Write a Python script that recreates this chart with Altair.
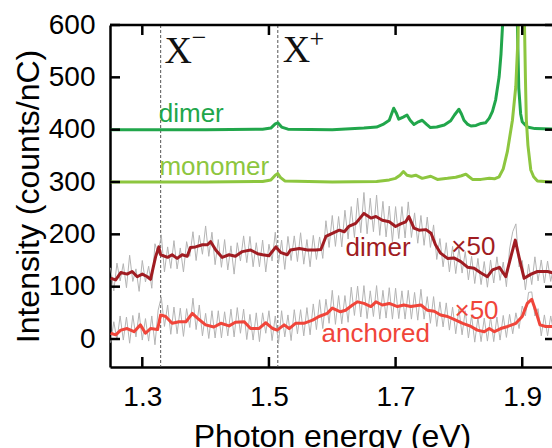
import altair as alt
import pandas as pd

# Plot-area size (px) and data ranges
W, H = 442, 342
E_DOMAIN = [1.249, 1.947]
I_DOMAIN = [-53.5, 600]

x_tick_values = [1.3, 1.5, 1.7, 1.9]
y_tick_values = [0, 100, 200, 300, 400, 500, 600]

# Trion energies (dashed markers)
trion_energy = [1.329, 1.514]

# Dimer spectrum (offset +400)
dimer_e = [1.25, 1.30, 1.40, 1.49, 1.503, 1.510, 1.514, 1.520, 1.53, 1.60,
           1.65, 1.67, 1.68, 1.69, 1.697, 1.701, 1.705, 1.712, 1.718, 1.723,
           1.729, 1.736, 1.742, 1.749, 1.755, 1.765, 1.777, 1.787, 1.793, 1.800,
           1.804, 1.808, 1.814, 1.819, 1.827, 1.835, 1.842, 1.848, 1.853, 1.858,
           1.8635, 1.8665, 1.8688, 1.872, 1.876, 1.880, 1.884, 1.886, 1.889, 1.892,
           1.8945, 1.8975, 1.900, 1.904, 1.908, 1.92, 1.95]
dimer_v = [400, 400, 400, 401, 403, 411, 413, 405, 401, 400,
           403, 405, 410, 418, 441, 432, 420, 424, 428, 418,
           410, 415, 418, 410, 404, 405, 409, 417, 428, 439,
           430, 418, 410, 407, 408, 412, 413, 422, 435, 457,
           501, 545, 597, 680, 800, 1000, 1200, 1200, 1000, 620,
           480, 430, 415, 410, 405, 402, 401]

# Monomer spectrum (offset +300)
mono_e = [1.25, 1.40, 1.49, 1.503, 1.510, 1.514, 1.518, 1.525, 1.60, 1.67,
          1.69, 1.700, 1.707, 1.7124, 1.718, 1.725, 1.7318, 1.742, 1.7555, 1.766,
          1.782, 1.795, 1.804, 1.811, 1.816, 1.8214, 1.835, 1.848, 1.856, 1.8635,
          1.870, 1.8765, 1.8845, 1.8898, 1.8934, 1.8955, 1.898, 1.900, 1.9015, 1.903,
          1.905, 1.9065, 1.909, 1.9135, 1.918, 1.924, 1.95]
mono_v = [300, 300, 301, 304, 313, 316, 309, 302, 300, 301,
          304, 307, 313, 320, 313, 311, 313, 307, 311, 305,
          307, 309, 312, 315, 310, 305, 305, 307, 306, 310,
          325, 358, 418, 482, 578, 720, 1000, 1100, 900, 640,
          500, 418, 370, 323, 310, 302, 300]

# Dimer x50, smoothed (offset +100)
dimer50_e = [1.250, 1.258, 1.266, 1.276, 1.284, 1.292, 1.300, 1.308, 1.313, 1.321,
             1.326, 1.329, 1.340, 1.347, 1.355, 1.363, 1.371, 1.376, 1.384, 1.395,
             1.403, 1.408, 1.416, 1.426, 1.437, 1.447, 1.458, 1.471, 1.482, 1.490,
             1.500, 1.511, 1.519, 1.529, 1.534, 1.548, 1.561, 1.574, 1.582, 1.590,
             1.600, 1.611, 1.619, 1.626, 1.637, 1.650, 1.661, 1.669, 1.679, 1.690,
             1.700, 1.708, 1.716, 1.721, 1.729, 1.737, 1.748, 1.756, 1.763, 1.771,
             1.782, 1.792, 1.803, 1.814, 1.824, 1.835, 1.845, 1.853, 1.864, 1.874,
             1.882, 1.889, 1.895, 1.903, 1.914, 1.924, 1.940, 1.950]
dimer50_v = [116, 113, 127, 124, 129, 119, 124, 119, 114, 157,
             176, 161, 156, 161, 154, 161, 158, 175, 176, 180,
             180, 186, 170, 156, 161, 158, 167, 170, 163, 161,
             159, 176, 165, 161, 170, 173, 170, 170, 171, 196,
             202, 208, 205, 215, 221, 240, 231, 234, 227, 224,
             215, 220, 224, 234, 212, 208, 209, 202, 180, 164,
             154, 155, 148, 137, 135, 126, 119, 132, 137, 119,
             157, 189, 156, 116, 124, 129, 129, 126]

# Anchored x50, smoothed
anch_e = [1.250, 1.258, 1.266, 1.276, 1.287, 1.297, 1.305, 1.313, 1.324, 1.329,
          1.337, 1.347, 1.358, 1.369, 1.379, 1.387, 1.400, 1.413, 1.424, 1.437,
          1.447, 1.461, 1.471, 1.484, 1.495, 1.506, 1.513, 1.524, 1.532, 1.542,
          1.555, 1.569, 1.579, 1.592, 1.600, 1.613, 1.621, 1.632, 1.640, 1.650,
          1.661, 1.669, 1.679, 1.690, 1.703, 1.713, 1.724, 1.740, 1.750, 1.761,
          1.771, 1.782, 1.795, 1.806, 1.819, 1.829, 1.840, 1.848, 1.856, 1.866,
          1.877, 1.890, 1.900, 1.908, 1.915, 1.921, 1.928, 1.937, 1.950]
anch_v = [11, 8, 17, 20, 14, 27, 11, 20, 18, 46,
          43, 30, 33, 33, 49, 40, 27, 23, 30, 25,
          32, 33, 20, 20, 31, 20, 17, 27, 20, 30,
          30, 36, 43, 49, 59, 52, 55, 65, 71, 68,
          62, 71, 65, 68, 62, 65, 62, 65, 55, 53,
          46, 43, 36, 30, 24, 17, 14, 20, 14, 20,
          24, 30, 43, 68, 76, 55, 27, 24, 24]

# Raw (unsmoothed) x50 spectra on a 5 meV grid
raw_grid = [round(1.25 + 0.005 * i, 3) for i in range(141)]
dimer50_raw = [136, 92, 145, 111, 144, 98, 160, 110, 134, 91,
               150, 109, 139, 97, 182, 162, 199, 128, 176, 135,
               188, 134, 174, 128, 186, 158, 205, 150, 198, 162,
               216, 158, 204, 142, 190, 137, 190, 132, 178, 124,
               184, 149, 197, 146, 196, 138, 184, 138, 189, 128,
               181, 149, 204, 144, 189, 133, 196, 150, 197, 148,
               203, 143, 190, 138, 198, 152, 195, 154, 226, 175,
               236, 177, 234, 176, 246, 191, 253, 194, 269, 203,
               280, 201, 269, 205, 275, 198, 263, 195, 254, 186,
               253, 192, 253, 193, 262, 194, 241, 183, 236, 179,
               233, 175, 218, 152, 192, 138, 184, 128, 177, 125,
               174, 126, 167, 113, 158, 106, 154, 104, 148, 99,
               151, 107, 157, 112, 147, 100, 172, 205, 220, 138,
               150, 94, 143, 104, 157, 111, 151, 107, 149, 110,
               142]
anch_raw = [-7, 33, -2, 44, -2, 42, -8, 45, 4, 50,
            -2, 39, -4, 44, -11, 55, 80, 24, 65, 9,
            61, 10, 59, 5, 58, 22, 78, 18, 65, 6,
            49, 1, 54, 2, 54, 2, 52, 6, 57, 4,
            60, 11, 57, -1, 47, -2, 50, -5, 50, 11,
            54, -3, 44, -9, 54, 4, 46, -3, 56, 10,
            56, 6, 60, 8, 67, 18, 75, 20, 76, 30,
            93, 28, 83, 29, 83, 32, 99, 45, 101, 42,
            102, 39, 92, 43, 102, 38, 93, 40, 98, 38,
            97, 39, 92, 38, 93, 38, 89, 36, 95, 38,
            81, 30, 81, 24, 71, 23, 69, 17, 61, 10,
            57, 8, 54, 2, 45, -6, 41, -5, 40, -4,
            42, -5, 42, -2, 45, 3, 47, 10, 50, 20,
            63, 44, 89, 90, 44, 58, 6, 46, 6, 44,
            10]

trace_names = ["dimer", "monomer", "dimer x50", "anchored x50"]
trace_colors = ["#21a64b", "#8dc63f", "#a01c22", "#f0453a"]
RAW_GRAY = "#b4b4b4"

# Text labels
label_text = ["dimer", "monomer", "dimer", "\u00d750", "\u00d750", "anchored"]
label_e = [1.326, 1.327, 1.621, 1.788, 1.793, 1.583]
label_i = [415, 313, 159, 161, 38, -6]
label_color = [trace_colors[0], trace_colors[1], trace_colors[2],
               trace_colors[2], trace_colors[3], trace_colors[3]]

trion_text = ["X", "\u2212", "X", "+"]
trion_e = [1.335, 1.378, 1.522, 1.564]
trion_i = [528, 559, 529, 558]
trion_size = [38, 26, 38, 26]

SANS = "Liberation Sans"
SERIF = "Liberation Serif"


def frame(name, e, v):
    return pd.DataFrame({"E": e, "I": v, "trace": name})


smooth = pd.concat([
    frame(trace_names[0], dimer_e, dimer_v),
    frame(trace_names[1], mono_e, mono_v),
    frame(trace_names[2], dimer50_e, dimer50_v),
    frame(trace_names[3], anch_e, anch_v),
])
raw = pd.concat([
    frame("dimer raw", raw_grid, dimer50_raw),
    frame("anchored raw", raw_grid, anch_raw),
])
labels = pd.DataFrame({"E": label_e, "I": label_i, "text": label_text,
                       "color": label_color})
trions = pd.DataFrame({"E": trion_e, "I": trion_i, "text": trion_text,
                       "size": trion_size})

x_axis = alt.Axis(values=x_tick_values, format=".1f", ticks=False, grid=False,
                  domainColor="black", domainWidth=2.5, labelFlush=False,
                  labelFont=SANS, labelFontSize=28, labelColor="black",
                  labelPadding=16, title="Photon energy (eV)", titleFont=SANS,
                  titleFontSize=32, titleFontWeight="normal", titleColor="black",
                  titleX=222, titleY=79, titleAlign="center",
                  titleBaseline="alphabetic")
y_axis = alt.Axis(values=y_tick_values, ticks=False, grid=False,
                  domainColor="black", domainWidth=2.5,
                  labelFont=SANS, labelFontSize=28, labelColor="black",
                  labelPadding=15, title="Intensity (counts/nC)", titleFont=SANS,
                  titleFontSize=32, titleFontWeight="normal", titleColor="black",
                  titleX=-72, titleY=171, titleAngle=270, titleAlign="center",
                  titleBaseline="alphabetic")

x_enc = alt.X("E:Q", scale=alt.Scale(domain=E_DOMAIN, nice=False, zero=False),
              axis=x_axis)
y_enc = alt.Y("I:Q", scale=alt.Scale(domain=I_DOMAIN, nice=False, zero=False),
              axis=y_axis)

markers = alt.Chart(pd.DataFrame({"E": trion_energy})).mark_rule(
    color="#555555", strokeWidth=1, strokeDash=[3, 2]
).encode(x=x_enc)

raw_lines = alt.Chart(raw).mark_line(
    color=RAW_GRAY, strokeWidth=1, clip=True
).encode(x=x_enc, y=y_enc, detail="trace:N")

smooth_lines = alt.Chart(smooth).mark_line(
    strokeWidth=3, clip=True, strokeJoin="round"
).encode(
    x=x_enc, y=y_enc,
    color=alt.Color("trace:N", scale=alt.Scale(domain=trace_names, range=trace_colors),
                    legend=None),
)

label_marks = alt.Chart(labels).mark_text(
    align="left", baseline="alphabetic", font=SANS, fontSize=26
).encode(x=x_enc, y=y_enc, text="text:N", color=alt.Color("color:N", scale=None))

trion_marks = alt.Chart(trions).mark_text(
    align="left", baseline="alphabetic", font=SERIF, color="#111111"
).encode(x=x_enc, y=y_enc, text="text:N", size=alt.Size("size:Q", scale=None))

# Inward ticks on all four sides
xt = pd.DataFrame({"E": x_tick_values})
yt = pd.DataFrame({"I": y_tick_values})
tick_style = dict(color="black", strokeWidth=2.5)
ticks_bottom = alt.Chart(xt).mark_rule(**tick_style).encode(
    x=x_enc, y=alt.value(H - 10), y2=alt.value(H))
ticks_top = alt.Chart(xt).mark_rule(**tick_style).encode(
    x=x_enc, y=alt.value(0), y2=alt.value(10))
ticks_left = alt.Chart(yt).mark_rule(**tick_style).encode(
    y=y_enc, x=alt.value(0), x2=alt.value(10))
ticks_right = alt.Chart(yt).mark_rule(**tick_style).encode(
    y=y_enc, x=alt.value(W - 7), x2=alt.value(W + 3))
top_border = alt.Chart(pd.DataFrame({"k": [0]})).mark_rule(
    color="black", strokeWidth=2.5
).encode(x=alt.value(0), x2=alt.value(W + 3), y=alt.value(0))

chart = alt.layer(
    markers, raw_lines, smooth_lines, label_marks, trion_marks,
    ticks_bottom, ticks_top, ticks_left, ticks_right, top_border,
).properties(
    width=W, height=H,
    autosize=alt.AutoSizeParams(type="none"),
    padding={"left": 110, "top": 25, "right": 0, "bottom": 81},
).configure_view(strokeWidth=0)

chart.save("out.html", embed_options={"renderer": "svg", "actions": False})
